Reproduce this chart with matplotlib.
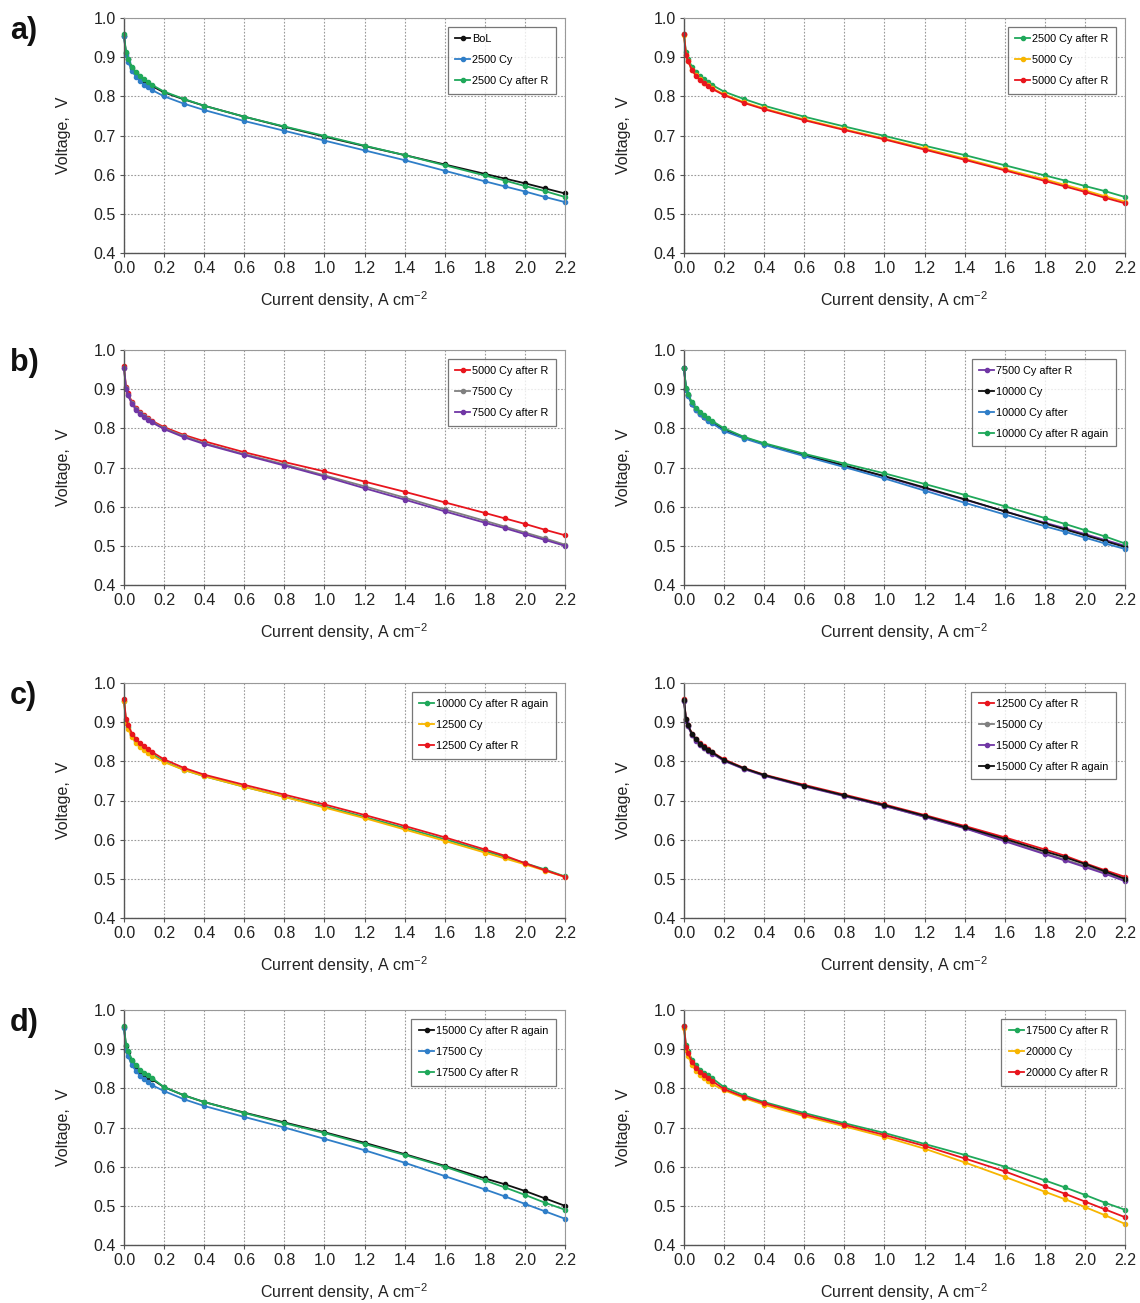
import matplotlib
matplotlib.use("Agg")
import matplotlib.pyplot as plt
import numpy as np

plt.rcParams['font.family'] = ['Liberation Sans', 'DejaVu Sans']
plt.rcParams['mathtext.fontset'] = 'custom'
plt.rcParams['mathtext.rm'] = 'Liberation Sans'
plt.rcParams['mathtext.default'] = 'regular'

# Current density, A cm-2
current = [0, 0.01, 0.02, 0.04, 0.06, 0.08, 0.1, 0.12, 0.14, 0.2, 0.3, 0.4,
           0.6, 0.8, 1.0, 1.2, 1.4, 1.6, 1.8, 1.9, 2.0, 2.1, 2.2]

bol = [0.955, 0.910, 0.895, 0.873, 0.860, 0.848, 0.840, 0.833, 0.826, 0.810, 0.792, 0.776,
       0.748, 0.722, 0.697, 0.673, 0.650, 0.626, 0.602, 0.590, 0.578, 0.565, 0.552]
cy2500 = [0.955, 0.905, 0.888, 0.865, 0.850, 0.838, 0.830, 0.823, 0.816, 0.800, 0.781, 0.765,
          0.737, 0.712, 0.687, 0.662, 0.637, 0.610, 0.583, 0.570, 0.557, 0.543, 0.530]
cy2500_r = [0.958, 0.912, 0.896, 0.875, 0.862, 0.851, 0.843, 0.836, 0.829, 0.812, 0.793, 0.776,
            0.748, 0.723, 0.699, 0.674, 0.650, 0.624, 0.598, 0.585, 0.571, 0.558, 0.543]
cy5000 = [0.957, 0.905, 0.890, 0.868, 0.854, 0.843, 0.835, 0.828, 0.821, 0.805, 0.785, 0.769,
          0.741, 0.716, 0.692, 0.667, 0.641, 0.614, 0.588, 0.574, 0.560, 0.545, 0.531]
cy5000_r = [0.958, 0.905, 0.890, 0.867, 0.852, 0.841, 0.833, 0.826, 0.819, 0.803, 0.783, 0.767,
            0.739, 0.714, 0.690, 0.664, 0.638, 0.611, 0.584, 0.570, 0.556, 0.541, 0.527]
cy7500 = [0.955, 0.902, 0.886, 0.864, 0.850, 0.839, 0.831, 0.824, 0.817, 0.800, 0.780, 0.762,
          0.734, 0.708, 0.680, 0.652, 0.623, 0.593, 0.564, 0.549, 0.534, 0.519, 0.503]
cy7500_r = [0.955, 0.900, 0.884, 0.862, 0.848, 0.837, 0.829, 0.822, 0.815, 0.798, 0.777, 0.760,
            0.732, 0.705, 0.677, 0.647, 0.618, 0.588, 0.559, 0.545, 0.530, 0.515, 0.500]
cy10000 = [0.955, 0.900, 0.885, 0.863, 0.849, 0.838, 0.830, 0.822, 0.815, 0.795, 0.776, 0.760,
           0.732, 0.705, 0.678, 0.649, 0.619, 0.588, 0.557, 0.542, 0.527, 0.512, 0.497]
cy10000_a = [0.955, 0.898, 0.883, 0.861, 0.847, 0.836, 0.828, 0.820, 0.813, 0.793, 0.774, 0.758,
             0.729, 0.701, 0.672, 0.641, 0.610, 0.580, 0.550, 0.536, 0.521, 0.506, 0.492]
cy10000_ra = [0.955, 0.903, 0.888, 0.866, 0.852, 0.841, 0.833, 0.826, 0.819, 0.800, 0.778, 0.762,
              0.735, 0.710, 0.685, 0.658, 0.630, 0.601, 0.571, 0.556, 0.540, 0.524, 0.506]
cy12500 = [0.955, 0.898, 0.883, 0.861, 0.847, 0.836, 0.828, 0.821, 0.814, 0.798, 0.778, 0.762,
           0.735, 0.709, 0.682, 0.655, 0.626, 0.597, 0.567, 0.552, 0.537, 0.521, 0.505]
cy12500_r = [0.958, 0.908, 0.893, 0.871, 0.857, 0.846, 0.838, 0.831, 0.824, 0.805, 0.783, 0.766,
             0.740, 0.715, 0.690, 0.663, 0.635, 0.606, 0.575, 0.559, 0.540, 0.522, 0.505]
cy15000 = [0.955, 0.905, 0.890, 0.868, 0.854, 0.843, 0.835, 0.828, 0.821, 0.802, 0.781, 0.764,
           0.737, 0.712, 0.686, 0.659, 0.630, 0.598, 0.565, 0.549, 0.533, 0.516, 0.497]
cy15000_r = [0.955, 0.904, 0.889, 0.867, 0.853, 0.842, 0.834, 0.827, 0.820, 0.801, 0.780, 0.763,
             0.736, 0.711, 0.686, 0.658, 0.629, 0.596, 0.563, 0.547, 0.530, 0.513, 0.494]
cy15000_ra = [0.957, 0.907, 0.892, 0.870, 0.856, 0.845, 0.837, 0.830, 0.823, 0.803, 0.782, 0.765,
              0.738, 0.713, 0.688, 0.661, 0.632, 0.602, 0.570, 0.555, 0.538, 0.519, 0.500]
cy17500 = [0.955, 0.898, 0.882, 0.859, 0.844, 0.832, 0.823, 0.815, 0.808, 0.793, 0.772, 0.755,
           0.727, 0.700, 0.671, 0.642, 0.610, 0.576, 0.542, 0.524, 0.505, 0.486, 0.467]
cy17500_r = [0.958, 0.910, 0.895, 0.873, 0.859, 0.848, 0.840, 0.833, 0.826, 0.803, 0.782, 0.765,
             0.737, 0.711, 0.686, 0.658, 0.630, 0.600, 0.565, 0.547, 0.528, 0.508, 0.490]
cy20000 = [0.955, 0.898, 0.882, 0.860, 0.845, 0.834, 0.826, 0.818, 0.811, 0.795, 0.775, 0.758,
           0.729, 0.703, 0.676, 0.646, 0.611, 0.574, 0.536, 0.517, 0.497, 0.476, 0.454]
cy20000_r = [0.958, 0.905, 0.890, 0.868, 0.853, 0.842, 0.834, 0.826, 0.819, 0.798, 0.778, 0.762,
             0.733, 0.707, 0.681, 0.653, 0.621, 0.588, 0.550, 0.531, 0.511, 0.491, 0.471]

BLACK = '#111111'
BLUE = '#2f7ec8'
GREEN = '#1fa85a'
ORANGE = '#f7b500'
RED = '#e8151d'
GREY = '#7f7f7f'
PURPLE = '#7036a5'

series = {
    'BoL': (bol, BLACK),
    '2500 Cy': (cy2500, BLUE),
    '2500 Cy after R': (cy2500_r, GREEN),
    '5000 Cy': (cy5000, ORANGE),
    '5000 Cy after R': (cy5000_r, RED),
    '7500 Cy': (cy7500, GREY),
    '7500 Cy after R': (cy7500_r, PURPLE),
    '10000 Cy': (cy10000, BLACK),
    '10000 Cy after': (cy10000_a, BLUE),
    '10000 Cy after R again': (cy10000_ra, GREEN),
    '12500 Cy': (cy12500, ORANGE),
    '12500 Cy after R': (cy12500_r, RED),
    '15000 Cy': (cy15000, GREY),
    '15000 Cy after R': (cy15000_r, PURPLE),
    '15000 Cy after R again': (cy15000_ra, BLACK),
    '17500 Cy': (cy17500, BLUE),
    '17500 Cy after R': (cy17500_r, GREEN),
    '20000 Cy': (cy20000, ORANGE),
    '20000 Cy after R': (cy20000_r, RED),
}

panels = [
    ['BoL', '2500 Cy', '2500 Cy after R'],
    ['2500 Cy after R', '5000 Cy', '5000 Cy after R'],
    ['5000 Cy after R', '7500 Cy', '7500 Cy after R'],
    ['7500 Cy after R', '10000 Cy', '10000 Cy after', '10000 Cy after R again'],
    ['10000 Cy after R again', '12500 Cy', '12500 Cy after R'],
    ['12500 Cy after R', '15000 Cy', '15000 Cy after R', '15000 Cy after R again'],
    ['15000 Cy after R again', '17500 Cy', '17500 Cy after R'],
    ['17500 Cy after R', '20000 Cy', '20000 Cy after R'],
]
row_labels = ['a)', 'b)', 'c)', 'd)']

W, H = 1140, 1303
fig = plt.figure(figsize=(W / 100, H / 100), dpi=100)

row_tops = [18, 350, 683, 1010]
ax_h = 235
col_lefts = [124, 684]
ax_w = 441

xticks = [0.0, 0.2, 0.4, 0.6, 0.8, 1.0, 1.2, 1.4, 1.6, 1.8, 2.0, 2.2]
yticks = [0.4, 0.5, 0.6, 0.7, 0.8, 0.9, 1.0]

for i, names in enumerate(panels):
    r, c = divmod(i, 2)
    left = col_lefts[c] / W
    bottom = 1 - (row_tops[r] + ax_h) / H
    ax = fig.add_axes([left, bottom, ax_w / W, ax_h / H])
    for name in names:
        vals, col = series[name]
        ax.plot(current, vals, color=col, lw=1.3, marker='o', ms=3.0,
                mec=col, mfc=col, label=name, clip_on=False)
    ax.set_xlim(0, 2.2)
    ax.set_ylim(0.4, 1.0)
    ax.set_xticks(xticks)
    ax.set_xticklabels([f'{t:.1f}' for t in xticks])
    ax.set_yticks(yticks)
    ax.set_yticklabels([f'{t:.1f}' for t in yticks])
    ax.grid(True, color='#9a9a9a', linestyle=(0, (1.5, 1.5)), linewidth=0.8)
    ax.set_axisbelow(True)
    ax.tick_params(labelsize=11.5, length=3, width=0.8, color='#555555', pad=3,
                   labelcolor='#222222')
    for side in ['left', 'bottom']:
        ax.spines[side].set_color('#555555')
        ax.spines[side].set_linewidth(1.0)
    for side in ['top', 'right']:
        ax.spines[side].set_color('#999999')
        ax.spines[side].set_linewidth(0.8)
    ax.set_xlabel('Current density, A cm$^{-2}$', fontsize=11.5, labelpad=9,
                  color='#222222')
    ax.set_ylabel('Voltage,  V', fontsize=11.5, labelpad=16, color='#222222')
    leg = ax.legend(loc='upper right', fontsize=7.8, handlelength=1.4,
                    handletextpad=0.2, borderpad=0.7, labelspacing=1.0,
                    frameon=True, fancybox=False, borderaxespad=0.8)
    leg.get_frame().set_edgecolor('#555555')
    leg.get_frame().set_linewidth(0.9)
    if c == 0:
        fig.text(10 / W, 1 - (row_tops[r] + 13) / H, row_labels[r],
                 fontsize=22, fontweight='bold', ha='left', va='center',
                 color='#111111')

fig.savefig('out.png', dpi=100)
